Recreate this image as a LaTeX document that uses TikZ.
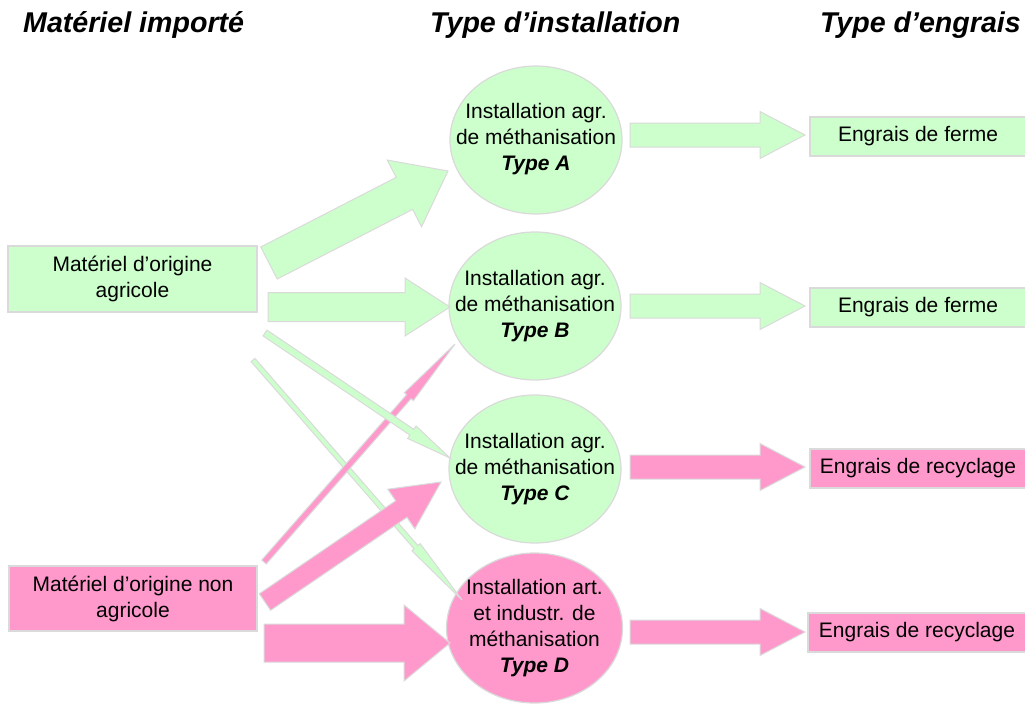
\documentclass[tikz,border=0pt]{standalone}
\usepackage{fontspec}
\setmainfont{Liberation Sans}
\usetikzlibrary{calc,shapes.geometric}
\definecolor{agr}{HTML}{CCFFCC}
\definecolor{nag}{HTML}{FF99CC}
\definecolor{edgegray}{HTML}{DADADA}
% block arrow: style, from, to, shaft half width, head half width, head length (pt)
\newcommand{\blockarrow}[6]{%
  \coordinate (ba-bc) at ($(#3)!#6pt!(#2)$);
  \draw[#1] ($(#2)!#4pt!90:(#3)$) -- ($(ba-bc)!#4pt!90:(#3)$) -- ($(ba-bc)!#5pt!90:(#3)$)
    -- (#3) -- ($(ba-bc)!#5pt!-90:(#3)$) -- ($(ba-bc)!#4pt!-90:(#3)$) -- ($(#2)!#4pt!-90:(#3)$) -- cycle;
}
\tikzset{
  head/.style={font=\fontsize{28.6}{32}\selectfont\bfseries\itshape, inner sep=0pt},
  body/.style={font=\fontsize{21}{26}\selectfont, align=center, text=black},
  gbox/.style={body, rectangle, fill=agr, draw=edgegray, line width=1.2pt, inner sep=0pt},
  pbox/.style={body, rectangle, fill=nag, draw=edgegray, line width=1.2pt, inner sep=0pt},
  gcirc/.style={ellipse, fill=agr, draw=edgegray, line width=1.2pt, inner sep=0pt},
  pcirc/.style={ellipse, fill=nag, draw=edgegray, line width=1.2pt, inner sep=0pt},
  garrow/.style={fill=agr, draw=edgegray, line width=1pt, line join=miter},
  parrow/.style={fill=nag, draw=edgegray, line width=1pt, line join=miter},
}
\newcommand{\typ}[1]{{\bfseries\itshape #1}}
\begin{document}
\begin{tikzpicture}[x=1pt,y=-1pt]
\useasboundingbox (0,0) rectangle (1025,704);
% headers
\node[head, anchor=base west] (h1) at (23,32) {Matériel importé};
\node[head, anchor=base west] (h2) at (430,32) {Type d’installation};
\node[head, anchor=base east] (h3) at (1021,32) {Type d’engrais};
% source boxes
\node[gbox, minimum width=249pt, minimum height=66pt] (agri) at (132.5,279) {Matériel d’origine\\agricole};
\node[pbox, minimum width=248pt, minimum height=65pt] (nagri) at (133,598.5) {Matériel d’origine non\\agricole};
% installations
\node[gcirc, minimum width=172pt, minimum height=148pt] (A) at (536,140) {};
\node[gcirc, minimum width=172pt, minimum height=148pt] (B) at (535,306) {};
\node[gcirc, minimum width=172pt, minimum height=148pt] (C) at (535,469) {};
\node[pcirc, minimum width=176pt, minimum height=150pt] (D) at (534.5,628) {};
\node[body] (At) at ([yshift=1pt]A.center) {Installation agr.\\de méthanisation\\\typ{Type A}};
\node[body] (Bt) at (B.center) {Installation agr.\\de méthanisation\\\typ{Type B}};
\node[body] (Ct) at (C.center) {Installation agr.\\de méthanisation\\\typ{Type C}};
\node[body] (Dt) at (D.center) {Installation art.\\et industr. de\\méthanisation\\\typ{Type D}};
% fertiliser boxes
\node[gbox, minimum width=216pt, minimum height=39pt] (E1) at (918,136.5) {Engrais de ferme};
\node[gbox, minimum width=216pt, minimum height=39pt] (E2) at (918,307.5) {Engrais de ferme};
\node[pbox, minimum width=216pt, minimum height=39pt] (E3) at (918,468.5) {Engrais de recyclage};
\node[pbox, minimum width=218pt, minimum height=39pt] (E4) at (917,632.5) {Engrais de recyclage};
% connector end points
\coordinate (a1s) at (269,263); \coordinate (a1e) at (448,171);
\coordinate (a2s) at (268,307); \coordinate (a2e) at (450,307);
\coordinate (a3s) at (265,333); \coordinate (a3e) at (450,458);
\coordinate (a4s) at (253,360); \coordinate (a4e) at (462,600);
\coordinate (p1s) at (264,562); \coordinate (p1e) at (455,344);
\coordinate (p2s) at (265,602); \coordinate (p2e) at (441,482);
\coordinate (p3s) at (264,643); \coordinate (p3e) at (450,643);
\coordinate (e1s) at (630,135); \coordinate (e1e) at (805,135);
\coordinate (e2s) at (630,306); \coordinate (e2e) at (805,306);
\coordinate (e3s) at (630,467); \coordinate (e3e) at (805,467);
\coordinate (e4s) at (630,632); \coordinate (e4e) at (805,632);
% arrows
\blockarrow{garrow}{a1s}{a1e}{18}{37.5}{49}
\blockarrow{garrow}{a2s}{a2e}{14.5}{29}{45}
\blockarrow{garrow}{a4s}{a4e}{2.5}{5.5}{70}
\blockarrow{parrow}{p1s}{p1e}{3}{6}{70}
\blockarrow{garrow}{a3s}{a3e}{3.5}{7.5}{46}
\blockarrow{parrow}{p2s}{p2e}{10}{24}{48}
\blockarrow{parrow}{p3s}{p3e}{19}{38}{46}
\blockarrow{garrow}{e1s}{e1e}{12}{23.5}{45}
\blockarrow{garrow}{e2s}{e2e}{12}{23.5}{45}
\blockarrow{parrow}{e3s}{e3e}{12}{23.5}{45}
\blockarrow{parrow}{e4s}{e4e}{12}{23.5}{45}
\end{tikzpicture}
\end{document}
